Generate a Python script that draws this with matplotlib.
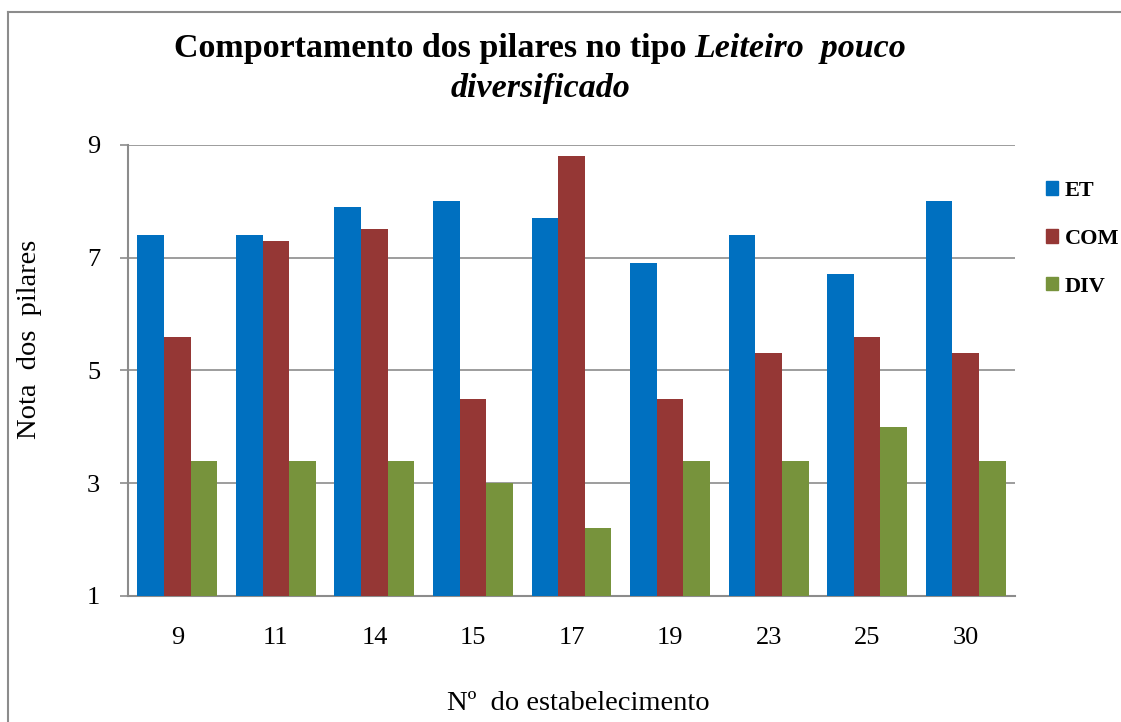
import numpy as np
import matplotlib
matplotlib.use("Agg")
import matplotlib.pyplot as plt
from matplotlib.lines import Line2D

# data
estabelecimentos = ["9", "11", "14", "15", "17", "19", "23", "25", "30"]
et = [7.4, 7.4, 7.9, 8.0, 7.7, 6.9, 7.4, 6.7, 8.0]
com = [5.6, 7.3, 7.5, 4.5, 8.8, 4.5, 5.3, 5.6, 5.3]
div = [3.4, 3.4, 3.4, 3.0, 2.2, 3.4, 3.4, 4.0, 3.4]
series_names = ["ET", "COM", "DIV"]
colors = ["#0070C0", "#953735", "#77933C"]
y_ticks = [1, 3, 5, 7, 9]

plt.rcParams["font.family"] = ["Liberation Serif", "DejaVu Serif"]

W, H = 1121, 722
fig = plt.figure(figsize=(W / 100, H / 100), dpi=100)
ax = fig.add_axes([128 / W, 1 - 596 / H, (1015 - 128) / W, (596 - 144.7) / H])

x = np.arange(len(estabelecimentos))
bw = 0.27
for i, (vals, name, c) in enumerate(zip([et, com, div], series_names, colors)):
    ax.bar(x + (i - 1) * bw, vals, width=bw, color=c, label=name, zorder=3)

grid_c = "#8c8c8c"
ax.set_ylim(1, 9)
ax.set_xlim(-0.5, len(estabelecimentos) - 0.5)
ax.set_yticks(y_ticks)
ax.set_xticks(x)
ax.set_xticklabels(estabelecimentos)
ax.yaxis.grid(True, color=grid_c, linewidth=1.2, zorder=0)
ax.set_axisbelow(True)
for s in ["top", "right"]:
    ax.spines[s].set_visible(False)
for s in ["left", "bottom"]:
    ax.spines[s].set_color(grid_c)
    ax.spines[s].set_linewidth(1.5)
ax.tick_params(axis="y", length=6, color=grid_c, width=1.2, labelsize=19, pad=14)
ax.tick_params(axis="x", length=0, labelsize=19, pad=22)

fig.text(30 / W, 1 - 339 / H, "Nota  dos  pilares", rotation=90, fontsize=20.5,
         ha="center", va="center")
fig.text(578 / W, 1 - 704 / H, "Nº  do estabelecimento", fontsize=20.5,
         ha="center", va="center")

# title: bold with italic part, centred
fig.canvas.draw()
r = fig.canvas.get_renderer()
tsize = 24.5
t1 = fig.text(0, 1 - 49 / H, "Comportamento dos pilares no tipo ", fontsize=tsize,
              fontweight="bold", va="center", ha="left")
t2 = fig.text(0, 1 - 49 / H, "Leiteiro  pouco", fontsize=tsize, fontweight="bold",
              fontstyle="italic", va="center", ha="left")
w1 = t1.get_window_extent(r).width
w2 = t2.get_window_extent(r).width
x0 = 540 - (w1 + w2) / 2
t1.set_x(x0 / W)
t2.set_x((x0 + w1) / W)
fig.text(540 / W, 1 - 88 / H, "diversificado", fontsize=tsize, fontweight="bold",
         fontstyle="italic", va="center", ha="center")

handles = [plt.Rectangle((0, 0), 1, 1, color=c) for c in colors]
fig.legend(handles, series_names, loc="upper left", bbox_to_anchor=(1046 / W, 1 - 181 / H),
           frameon=False, prop={"weight": "bold", "size": 16}, handlelength=0.55,
           handleheight=0.55, handletextpad=0.3, labelspacing=1.25, borderpad=0, borderaxespad=0)

# outer chart frame (left and top edges visible in the reference)
fig.add_artist(Line2D([8 / W, 8 / W], [0, 1 - 12 / H], color=grid_c, linewidth=1.5))
fig.add_artist(Line2D([8 / W, 1], [1 - 12 / H, 1 - 12 / H], color=grid_c, linewidth=1.5))

fig.savefig("out.png", dpi=100)
